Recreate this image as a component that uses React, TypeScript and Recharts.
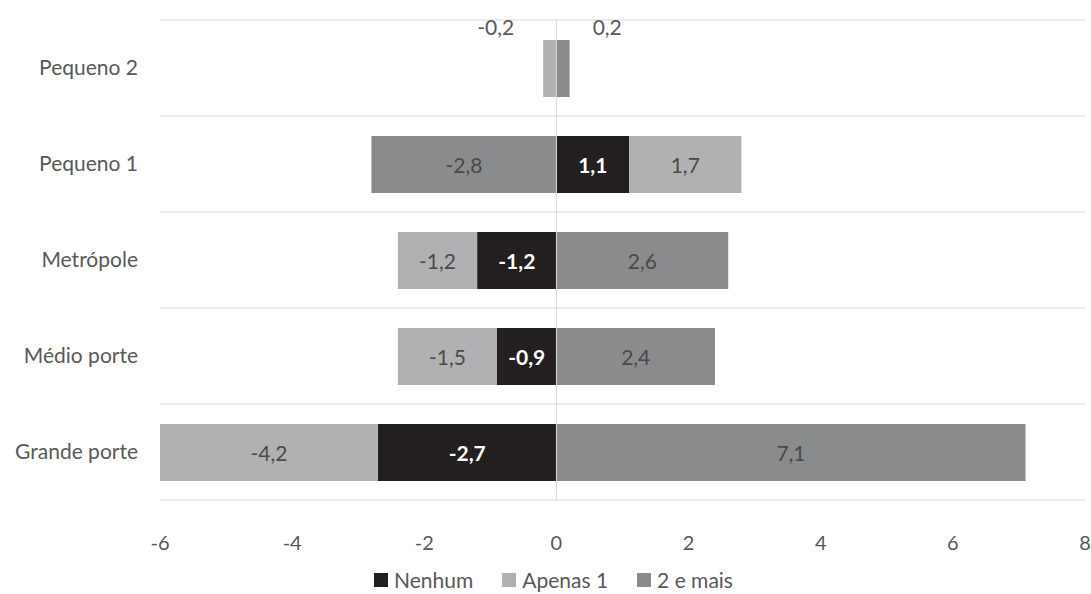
import React from 'react';
import {
  BarChart,
  Bar,
  XAxis,
  YAxis,
  CartesianGrid,
  Legend,
  ReferenceLine,
  LabelList,
} from 'recharts';

const categories = ['Pequeno 2', 'Pequeno 1', 'Metrópole', 'Médio porte', 'Grande porte'];
const nenhum = [0, 1.1, -1.2, -0.9, -2.7];
const apenas1 = [-0.2, 1.7, -1.2, -1.5, -4.2];
const doisEMais = [0.2, -2.8, 2.6, 2.4, 7.1];
const xTicks = [-6, -4, -2, 0, 2, 4, 6, 8];

const series = [
  { key: 'nenhum', name: 'Nenhum', color: '#231f20', labelColor: '#ffffff', bold: true },
  { key: 'apenas1', name: 'Apenas 1', color: '#b1b1b3', labelColor: '#4a4a4a', bold: false },
  { key: 'doisEMais', name: '2 e mais', color: '#8a8b8d', labelColor: '#4a4a4a', bold: false },
];

const data = categories.map((cat, i) => ({
  cat,
  nenhum: nenhum[i],
  apenas1: apenas1[i],
  doisEMais: doisEMais[i],
}));

const FONT = 'Lato, "Open Sans", sans-serif';
const TEXT = '#595959';

const fmt = (v: number) => v.toFixed(1).replace('.', ',');

// value label: inside the bar, or beside/above it when the bar is too thin
const makeLabel = (color: string, bold: boolean) => (props: any) => {
  const { x, y, width, height, value } = props;
  if (value == null || value === 0) return null;
  const left = Math.min(x, x + width);
  const right = Math.max(x, x + width);
  if (right - left < 30) {
    const neg = value < 0;
    return (
      <text
        x={neg ? left - 29 : right + 23}
        y={y - 5}
        textAnchor={neg ? 'end' : 'start'}
        fill={TEXT}
        fontSize={21}
        fontFamily={FONT}
      >
        {fmt(value)}
      </text>
    );
  }
  return (
    <text
      x={x + width / 2}
      y={y + height / 2}
      textAnchor="middle"
      dominantBaseline="central"
      fill={color}
      fontSize={21}
      fontWeight={bold ? 700 : 400}
      fontFamily={FONT}
    >
      {fmt(value)}
    </text>
  );
};

const LegendContent = () => (
  <div
    style={{
      display: 'flex',
      justifyContent: 'center',
      alignItems: 'center',
      gap: 29,
      fontFamily: FONT,
      fontSize: 21,
      color: TEXT,
      paddingLeft: 16,
    }}
  >
    {series.map((s) => (
      <div key={s.key} style={{ display: 'flex', alignItems: 'center' }}>
        <span style={{ width: 14, height: 14, background: s.color, marginRight: 6, display: 'inline-block' }} />
        <span>{s.name}</span>
      </div>
    ))}
  </div>
);

export default function App() {
  return (
    <div style={{ position: 'absolute', left: 0, top: 0, background: '#fff' }}>
      <BarChart
        width={1091}
        height={594}
        data={data}
        layout="vertical"
        stackOffset="sign"
        margin={{ top: 20, right: 6, bottom: 34, left: 10 }}
      >
        <CartesianGrid
          vertical={false}
          stroke="#d9d9d9"
          horizontalCoordinatesGenerator={({ offset }: any) =>
            categories.map((_, i) => offset.top + (i * offset.height) / categories.length).concat(offset.top + offset.height)
          }
        />
        <XAxis
          type="number"
          domain={[-6, 8]}
          ticks={xTicks}
          allowDataOverflow
          axisLine={false}
          tickLine={false}
          tickMargin={30}
          height={60}
          tick={{ fill: TEXT, fontSize: 20, fontFamily: FONT }}
        />
        <YAxis
          type="category"
          dataKey="cat"
          width={150}
          axisLine={false}
          tickLine={false}
          tickMargin={16}
          tick={{ fill: TEXT, fontSize: 21, fontFamily: FONT }}
        />
        <Legend
          verticalAlign="middle"
          align="center"
          content={<LegendContent />}
          wrapperStyle={{ top: 567, left: 0, width: 1091 }}
        />
        {series.map((s) => (
          <Bar
            key={s.key}
            dataKey={s.key}
            name={s.name}
            stackId="a"
            fill={s.color}
            barSize={57}
            isAnimationActive={false}
          >
            <LabelList dataKey={s.key} content={makeLabel(s.labelColor, s.bold)} />
          </Bar>
        ))}
        <ReferenceLine x={0} stroke="#d9d9d9" strokeWidth={1} />
      </BarChart>
    </div>
  );
}
